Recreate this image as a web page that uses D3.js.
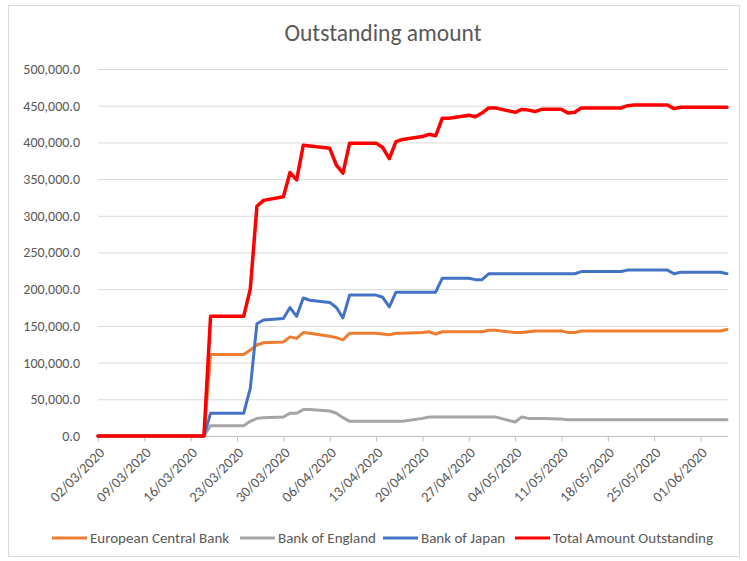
<!DOCTYPE html>
<html>
<head>
<meta charset="utf-8">
<script src="https://cdn.jsdelivr.net/npm/d3@7"></script>
<style>
  html, body { margin: 0; padding: 0; background: #fff; }
  svg text { font-family: Carlito, Calibri, Lato, "Open Sans", sans-serif; }
</style>
</head>
<body>
<svg id="chart" width="747" height="561"></svg>
<script>
// ---- DATA ----
const title = "Outstanding amount";

// business days, 02/03/2020 .. 05/06/2020
const dates = [
  "02/03/2020","03/03/2020","04/03/2020","05/03/2020","06/03/2020",
  "09/03/2020","10/03/2020","11/03/2020","12/03/2020","13/03/2020",
  "16/03/2020","17/03/2020","18/03/2020","19/03/2020","20/03/2020",
  "23/03/2020","24/03/2020","25/03/2020","26/03/2020","27/03/2020",
  "30/03/2020","31/03/2020","01/04/2020","02/04/2020","03/04/2020",
  "06/04/2020","07/04/2020","08/04/2020","09/04/2020","10/04/2020",
  "13/04/2020","14/04/2020","15/04/2020","16/04/2020","17/04/2020",
  "20/04/2020","21/04/2020","22/04/2020","23/04/2020","24/04/2020",
  "27/04/2020","28/04/2020","29/04/2020","30/04/2020","01/05/2020",
  "04/05/2020","05/05/2020","06/05/2020","07/05/2020","08/05/2020",
  "11/05/2020","12/05/2020","13/05/2020","14/05/2020","15/05/2020",
  "18/05/2020","19/05/2020","20/05/2020","21/05/2020","22/05/2020",
  "25/05/2020","26/05/2020","27/05/2020","28/05/2020","29/05/2020",
  "01/06/2020","02/06/2020","03/06/2020","04/06/2020","05/06/2020"
];

const seriesNames = ["European Central Bank","Bank of England","Bank of Japan","Total Amount Outstanding"];

// values in thousands
const ecb = [
  0,0,0,0,0, 0,0,0,0,0, 0,0,0,111,111,
  111,111,117,124,127, 128,135,133,141,140,
  136,134,131,140,140, 140,139,138,140,140,
  141,142,139,142,142, 142,142,142,144,144,
  141,141,142,143,143, 143,141,141,143,143,
  143,143,143,143,143, 143,143,143,143,143,
  143,143,143,143,145
];
const boe = [
  0,0,0,0,0, 0,0,0,0,0, 0,0,0,14,14,
  14,14,20,24,25, 26,31,31,36,36,
  34,31,25,20,20, 20,20,20,20,20,
  24,26,26,26,26, 26,26,26,26,26,
  19,26,24,24,24, 23,22,22,22,22,
  22,22,22,22,22, 22,22,22,22,22,
  22,22,22,22,22
];
const boj = [
  0,0,0,0,0, 0,0,0,0,0, 0,0,0,31,31,
  31,31,65,153,158, 160,175,163,188,185,
  182,175,161,192,192, 192,189,176,196,196,
  196,196,196,215,215, 215,213,213,221,221,
  221,221,221,221,221, 221,221,221,224,224,
  224,224,224,226,226, 226,226,226,221,223,
  223,223,223,223,221
];
const total = [
  0,0,0,0,0, 0,0,0,0,0, 0,0,0,163,163,
  163,163,200,313,321, 326,359,349,396,395,
  392,369,358,399,399, 399,393,378,401,404,
  408,411,409,433,433, 437,435,440,447,447,
  441,445,444,442,445, 445,440,441,447,447,
  447,447,447,450,451, 451,451,451,446,448,
  448,448,448,448,448
];

const tickLabels = ["02/03/2020","09/03/2020","16/03/2020","23/03/2020","30/03/2020","06/04/2020",
  "13/04/2020","20/04/2020","27/04/2020","04/05/2020","11/05/2020","18/05/2020","25/05/2020","01/06/2020"];
const yTicks = [0,50000,100000,150000,200000,250000,300000,350000,400000,450000,500000];

const colors = ["#ED7D31","#A5A5A5","#4472C4","#FF0000"];
const widths = [3,3,3,3.5];

// ---- CHART ----
const parse = d3.timeParse("%d/%m/%Y");
const svg = d3.select("#chart");
const FONT = "Carlito, Calibri, Lato, sans-serif";

svg.append("rect").attr("x",8.5).attr("y",5.5).attr("width",731).attr("height",551)
  .attr("fill","#fff").attr("stroke","#d9d9d9").attr("stroke-width",1);

const x = d3.scaleTime().domain([parse(dates[0]), parse(dates[dates.length-1])]).range([98, 727]);
const y = d3.scaleLinear().domain([0, 500000]).range([436, 69]);

svg.append("text").attr("x",383).attr("y",41).attr("text-anchor","middle")
  .attr("font-size",23.5).attr("fill","#595959").text(title);

// gridlines
svg.append("g").selectAll("line").data(yTicks.filter(v=>v>0)).join("line")
  .attr("x1",98).attr("x2",728).attr("y1",d=>y(d)+0.5).attr("y2",d=>y(d)+0.5)
  .attr("stroke","#d9d9d9").attr("stroke-width",1);

// y axis labels
const yAxis = d3.axisLeft(y).tickValues(yTicks).tickFormat(d3.format(",.1f")).tickSize(0).tickPadding(18);
const gy = svg.append("g").attr("transform","translate(98,0)").call(yAxis);
gy.select(".domain").remove();
gy.selectAll("text").attr("font-size",14).attr("fill","#595959").style("font-family",FONT);

// x axis
const xAxis = d3.axisBottom(x).tickValues(tickLabels.map(parse))
  .tickFormat(d3.timeFormat("%d/%m/%Y")).tickSize(5).tickSizeOuter(0);
const gx = svg.append("g").attr("transform","translate(0,436.5)").call(xAxis);
gx.select(".domain").attr("stroke","#bfbfbf").attr("d","M98,0H728");
gx.selectAll(".tick line").attr("stroke","#bfbfbf");
gx.selectAll("text").attr("font-size",14.5).attr("fill","#595959").style("font-family",FONT)
  .attr("text-anchor","end").attr("dy",0).attr("y",0)
  .attr("transform","translate(7,17) rotate(-45)");

// lines
const allSeries = [ecb, boe, boj, total];
const line = d3.line().x(d=>x(d.date)).y(d=>y(d.value));
allSeries.forEach((vals,i)=>{
  const data = vals.map((v,j)=>({date: parse(dates[j]), value: v*1000}));
  svg.append("path").datum(data).attr("d",line).attr("fill","none")
    .attr("stroke",colors[i]).attr("stroke-width",widths[i])
    .attr("stroke-linejoin","round").attr("stroke-linecap","round");
});

// legend
const legendX = [52, 240, 383, 515];
const lg = svg.append("g");
seriesNames.forEach((name,i)=>{
  const g = lg.append("g").attr("transform",`translate(${legendX[i]},538)`);
  g.append("line").attr("x1",0).attr("x2",35).attr("y1",0).attr("y2",0)
    .attr("stroke",colors[i]).attr("stroke-width",3);
  g.append("text").attr("x",38).attr("y",5).attr("font-size",15).attr("fill","#595959").text(name);
});
</script>
</body>
</html>
